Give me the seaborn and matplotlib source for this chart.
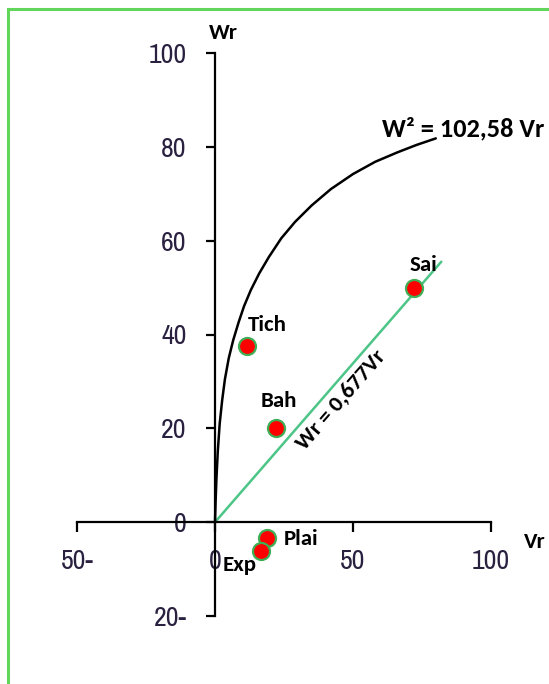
import matplotlib
matplotlib.use("Agg")
import matplotlib.pyplot as plt
from matplotlib.patches import Rectangle
import seaborn as sns
import pandas as pd

# Sites: reduced variance (Vr) vs reduced water content (Wr)
sites = ["Tich", "Bah", "Sai", "Plai", "Exp"]
vr = [11.5, 22.0, 72.0, 18.7, 16.5]
wr = [37.5, 20.0, 50.0, -3.3, -6.2]

# Upper envelope curve (W² = 102,58 Vr)
curve_vr = [0.0, 0.2, 0.5, 1.0, 1.7, 2.6, 3.6, 5.0, 6.6, 8.5, 10.5, 13.0,
            16.0, 19.5, 24.0, 29.0, 35.0, 42.0, 50.0, 58.0, 66.0, 73.0, 80.0]
curve_wr = [0.0, 4.0, 9.0, 15.0, 21.0, 26.0, 30.5, 35.0, 38.8, 42.5, 46.0, 49.5,
            53.0, 56.5, 60.5, 64.0, 67.5, 71.0, 74.2, 76.8, 78.8, 80.4, 81.8]

# Regression line Wr = 0,677 Vr
slope = 0.677
line_vr = [0.0, 82.0]
line_wr = [slope * v for v in line_vr]

# Axis ticks and their labels
x_ticks = [-50, 0, 50, 100]
x_labels = ["50-", "0", "50", "100"]
y_ticks = [-20, 0, 20, 40, 60, 80, 100]
y_labels = ["20-", "0", "20", "40", "60", "80", "100"]

sns.set_style("white")
plt.rcParams["font.family"] = ["Carlito", "DejaVu Sans"]

DPI = 100
fig = plt.figure(figsize=(549 / DPI, 684 / DPI), dpi=DPI, facecolor="white")
ax = fig.add_axes([77 / 549, 1 - 616 / 684, 414 / 549, 563 / 684])
ax.set_facecolor("white")

pts = pd.DataFrame({"site": sites, "Vr": vr, "Wr": wr})
curve = pd.DataFrame({"Vr": curve_vr, "Wr": curve_wr})
line = pd.DataFrame({"Vr": line_vr, "Wr": line_wr})

sns.lineplot(data=line, x="Vr", y="Wr", ax=ax, color="#4cc587", lw=1.8,
             sort=False, estimator=None, zorder=2)
sns.lineplot(data=curve, x="Vr", y="Wr", ax=ax, color="black", lw=1.8,
             sort=False, estimator=None, zorder=3)
sns.scatterplot(data=pts, x="Vr", y="Wr", ax=ax, s=150, color="#ff0000",
                edgecolor="#3fae55", linewidth=1.6, zorder=4)

ax.set_xlim(-50, 100)
ax.set_ylim(-20, 100)

# Cross-shaped axes through the origin
for side in ("top", "right"):
    ax.spines[side].set_visible(False)
for side in ("left", "bottom"):
    ax.spines[side].set_position(("data", 0))
    ax.spines[side].set_color("black")
    ax.spines[side].set_linewidth(1.6)

tick_font = dict(family=["Archivo Narrow", "Roboto Condensed", "DejaVu Sans"],
                 size=20)
ax.set_xticks(x_ticks)
ax.set_xticklabels(x_labels, fontdict=tick_font, color="#2a2040")
ax.set_yticks(y_ticks)
ax.set_yticklabels(y_labels, fontdict=tick_font, color="#2a2040")
ax.tick_params(axis="x", bottom=True, direction="out", length=7, width=1.6,
               pad=12, color="black")
ax.tick_params(axis="y", left=True, direction="out", length=6.5, width=1.6,
               pad=14, color="black")
ax.set_xlabel("")
ax.set_ylabel("")

lab = dict(fontweight="bold", fontsize=16.5, color="black", zorder=5)

# Point labels
offsets = {"Tich": (15, 15, "center"), "Bah": (2, 20, "center"),
           "Sai": (7, 16, "center"), "Plai": (12, -1, "left"),
           "Exp": (-15, -10, "center")}
for s, x, y in zip(sites, vr, wr):
    dx, dy, ha = offsets[s]
    ax.annotate(s, (x, y), xytext=(dx, dy), textcoords="offset points",
                ha=ha, va="center", **lab)

# Axis titles
ax.text(3, 104.3, "Wr", ha="center", va="center", clip_on=False, **lab)
ax.text(116, -4.3, "Vr", ha="center", va="center", clip_on=False, **lab)

# Equations
ax.text(60.5, 83.9, "W² = 102,58 Vr", ha="left", va="center",
        clip_on=False, fontweight="bold", fontsize=19, color="black")
ax.text(45.6, 26, "Wr = 0,677Vr", ha="center", va="center", rotation=49,
        rotation_mode="anchor", fontweight="bold", fontsize=16.5, color="black")

# Frame around the chart area
fig.add_artist(Rectangle((8 / 549, -0.2), 1.3, 1.2 - 9 / 684,
                         transform=fig.transFigure, fill=False,
                         edgecolor="#62d65a", lw=2.2))

fig.savefig("out.png", dpi=DPI, facecolor="white")
